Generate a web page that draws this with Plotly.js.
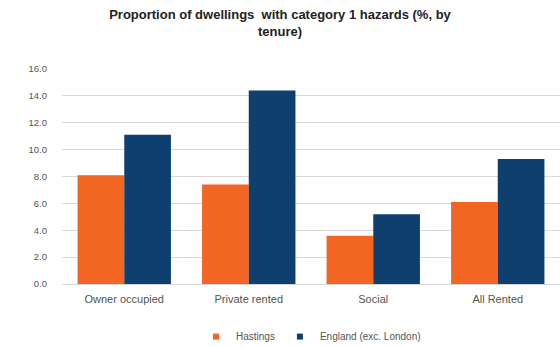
<!DOCTYPE html>
<html>
<head>
<meta charset="utf-8">
<script src="https://cdn.plot.ly/plotly-3.0.1.min.js"></script>
<style>html,body{margin:0;padding:0;background:#fff;}#chart{width:560px;height:347px;}</style>
</head>
<body>
<div id="chart"></div>
<script>
const categories = ["Owner occupied", "Private rented", "Social", "All Rented"];
const hastings = [8.1, 7.4, 3.6, 6.1];
const england = [11.1, 14.4, 5.2, 9.3];
const seriesNames = ["Hastings", "England (exc. London)"];
const seriesColors = ["#F26522", "#0F3F6E"];
const tickVals = [0, 2, 4, 6, 8, 10, 12, 14, 16];
const tickText = ["0.0", "2.0", "4.0", "6.0", "8.0", "10.0", "12.0", "14.0", "16.0"];

const font = "Liberation Sans, Arial, sans-serif";
const traces = [
  {type: "bar", x: categories, y: hastings, name: seriesNames[0], marker: {color: seriesColors[0]}, showlegend: false},
  {type: "bar", x: categories, y: england, name: seriesNames[1], marker: {color: seriesColors[1]}, showlegend: false},
  {type: "scatter", mode: "markers", x: [null], y: [null], name: seriesNames[0], marker: {symbol: "square", size: 6, color: seriesColors[0]}},
  {type: "scatter", mode: "markers", x: [null], y: [null], name: seriesNames[1], marker: {symbol: "square", size: 6, color: seriesColors[1]}}
];

const layout = {
  width: 560, height: 347,
  margin: {l: 62, r: 0, t: 69, b: 63},
  paper_bgcolor: "#fff", plot_bgcolor: "#fff",
  title: {
    text: "<b>Proportion of dwellings  with category 1 hazards (%, by<br>tenure)</b>",
    font: {family: font, size: 13, color: "#222"},
    x: 0.5, xanchor: "center", y: 0.946, yanchor: "top"
  },
  barmode: "group", bargap: 0.25, bargroupgap: 0,
  xaxis: {
    type: "category", automargin: false,
    tickfont: {family: font, size: 11, color: "#555"},
    showline: true, linecolor: "#d9d9d9", linewidth: 1, ticks: "", ticklabelstandoff: 5
  },
  yaxis: {
    range: [0, 16], tickvals: tickVals, ticktext: tickText, automargin: false,
    tickfont: {family: font, size: 9.5, color: "#555"},
    showgrid: true, gridcolor: "#d9d9d9", gridwidth: 1, zeroline: false,
    ticks: "", ticklabelstandoff: 14
  },
  showlegend: true,
  legend: {
    orientation: "h", x: 0.5, xanchor: "center", yref: "container", y: 0.03, yanchor: "middle",
    font: {family: font, size: 10, color: "#555"},
    itemwidth: 30, tracegroupgap: 0
  }
};

Plotly.newPlot("chart", traces, layout, {displayModeBar: false, staticPlot: true});
</script>
</body>
</html>
